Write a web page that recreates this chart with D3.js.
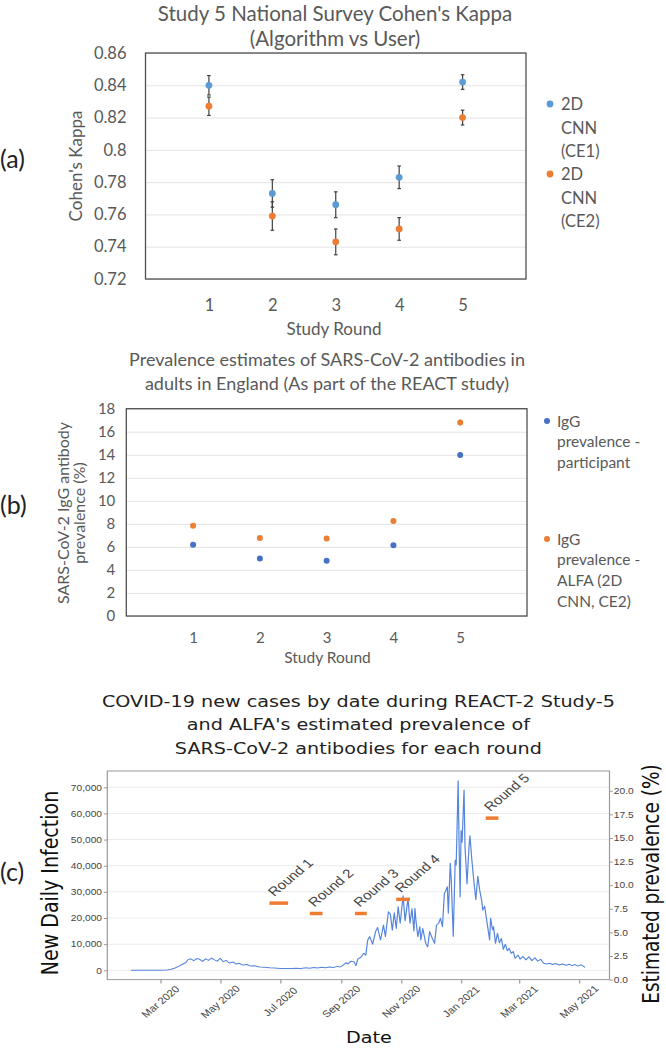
<!DOCTYPE html>
<html><head><meta charset="utf-8">
<script src="https://cdn.jsdelivr.net/npm/d3@7"></script>
<style>body{margin:0;background:#fff}svg{display:block}</style>
</head><body><svg id="chart"></svg>
<script>
// ---------- DATA ----------
const rounds = [1, 2, 3, 4, 5];
const kappaTicks = [0.72, 0.74, 0.76, 0.78, 0.80, 0.82, 0.84, 0.86];
const kappaCE1 = [0.840, 0.773, 0.766, 0.783, 0.842];
const kappaCE1Err = [0.006, 0.0085, 0.008, 0.007, 0.0045];
const kappaCE2 = [0.827, 0.759, 0.743, 0.751, 0.820];
const kappaCE2Err = [0.0057, 0.0088, 0.008, 0.007, 0.0046];

const prevTicks = [0, 2, 4, 6, 8, 10, 12, 14, 16, 18];
const prevParticipant = [6.19, 5.0, 4.8, 6.14, 13.98];
const prevParticipantErr = [0.1, 0.08, 0.08, 0.1, 0.2];
const prevALFA = [7.84, 6.77, 6.74, 8.25, 16.8];
const prevALFAErr = [0.12, 0.08, 0.08, 0.1, 0.25];

const caseSeries = [
 ["2020-01-31",0],["2020-02-15",0],["2020-03-01",20],["2020-03-08",100],["2020-03-12",400],
 ["2020-03-16",900],["2020-03-20",1600],["2020-03-24",2400],["2020-03-27",3000],["2020-03-29",4000],
 ["2020-04-01",4400],["2020-04-04",3700],["2020-04-07",4500],["2020-04-10",4200],["2020-04-13",3400],
 ["2020-04-16",4400],["2020-04-19",3800],["2020-04-22",4700],["2020-04-25",4000],["2020-04-28",3500],
 ["2020-05-01",4600],["2020-05-04",3300],["2020-05-07",3800],["2020-05-10",2800],["2020-05-14",3200],
 ["2020-05-17",2400],["2020-05-20",2700],["2020-05-24",2000],["2020-05-28",2200],["2020-06-01",1600],
 ["2020-06-05",1700],["2020-06-10",1300],["2020-06-15",1200],["2020-06-20",1000],["2020-06-25",900],
 ["2020-07-01",700],["2020-07-07",650],["2020-07-12",700],["2020-07-17",800],["2020-07-22",700],
 ["2020-07-27",1000],["2020-07-31",800],["2020-08-04",1100],["2020-08-08",900],["2020-08-12",1200],
 ["2020-08-16",1000],["2020-08-20",1300],["2020-08-24",1100],["2020-08-28",1500],["2020-08-31",1300],
 ["2020-09-03",2000],["2020-09-06",2900],["2020-09-08",2400],["2020-09-11",3500],["2020-09-14",3300],
 ["2020-09-16",1800],["2020-09-18",4400],["2020-09-21",5000],["2020-09-24",6500],["2020-09-26",5800],
 ["2020-09-28",11600],["2020-09-30",12900],["2020-10-03",10000],["2020-10-06",14800],["2020-10-08",16400],
 ["2020-10-11",11600],["2020-10-14",17300],["2020-10-16",12900],["2020-10-19",22400],["2020-10-21",21500],
 ["2020-10-23",15300],["2020-10-25",22000],["2020-10-27",16000],["2020-10-29",24300],["2020-10-31",18000],
 ["2020-11-03",28500],["2020-11-05",19000],["2020-11-08",27500],["2020-11-10",18000],["2020-11-12",23500],
 ["2020-11-14",15000],["2020-11-15",23700],["2020-11-16",19200],["2020-11-18",12900],["2020-11-20",16700],
 ["2020-11-21",11600],["2020-11-23",16000],["2020-11-26",10300],["2020-11-28",9000],["2020-11-30",14800],
 ["2020-12-02",12900],["2020-12-05",10300],["2020-12-07",17300],["2020-12-09",17900],["2020-12-11",19900],
 ["2020-12-13",16700],["2020-12-15",29500],["2020-12-16",30100],["2020-12-18",32000],["2020-12-19",21800],
 ["2020-12-21",40900],["2020-12-22",34500],["2020-12-24",12900],["2020-12-26",42200],["2020-12-27",40300],
 ["2020-12-29",72500],["2020-12-30",47000],["2020-12-31",28000],["2021-01-01",53500],["2021-01-02",49000],
 ["2021-01-04",69000],["2021-01-05",47000],["2021-01-06",40500],["2021-01-07",33000],["2021-01-09",47000],
 ["2021-01-10",51500],["2021-01-12",42000],["2021-01-13",38000],["2021-01-14",34000],["2021-01-16",27000],
 ["2021-01-18",36000],["2021-01-20",30500],["2021-01-22",26500],["2021-01-23",23000],["2021-01-25",24500],
 ["2021-01-26",21800],["2021-01-28",16700],["2021-01-30",11600],["2021-01-31",19900],["2021-02-02",15500],
 ["2021-02-03",16700],["2021-02-05",10300],["2021-02-07",14200],["2021-02-09",10500],["2021-02-11",12200],
 ["2021-02-13",8000],["2021-02-15",10000],["2021-02-17",7500],["2021-02-19",8400],["2021-02-21",6500],
 ["2021-02-23",7200],["2021-02-25",4600],["2021-02-28",5800],["2021-03-02",4300],["2021-03-05",5300],
 ["2021-03-08",4000],["2021-03-11",5200],["2021-03-14",3700],["2021-03-17",4800],["2021-03-20",3500],
 ["2021-03-23",4200],["2021-03-26",2700],["2021-03-29",2400],["2021-04-01",2700],["2021-04-04",2200],
 ["2021-04-07",2600],["2021-04-11",2000],["2021-04-14",2400],["2021-04-18",1900],["2021-04-21",2300],
 ["2021-04-24",1800],["2021-04-27",2200],["2021-04-30",1600],["2021-05-03",2100],["2021-05-05",1700],
 ["2021-05-07",1100]
];
const caseTicks = [0, 10000, 20000, 30000, 40000, 50000, 60000, 70000];
const prevRightTicks = [0, 2.5, 5, 7.5, 10, 12.5, 15, 17.5, 20];
const roundNames = ["Round 1", "Round 2", "Round 3", "Round 4", "Round 5"];
const roundStart = ["2020-06-20", "2020-07-31", "2020-09-15", "2020-10-27", "2021-01-26"];
const roundEnd = ["2020-07-09", "2020-08-13", "2020-09-27", "2020-11-10", "2021-02-08"];
const roundPrev = [8.1, 7.0, 7.0, 8.5, 17.1];

// ---------- SETUP ----------
const W = 666, H = 1048;
const svg = d3.select("#chart").attr("width", W).attr("height", H);
const LATO = "Lato, 'Open Sans', sans-serif";
const GREY = "#595959";

function panelLabel(txt, y) {
  svg.append("text").attr("x", 0).attr("y", y).attr("font-family", LATO)
    .attr("font-size", 25).attr("fill", "#222").text(txt);
}

// ---------- PANEL A ----------
{
  const L = 145.5, R = 526, T = 53, B = 279;
  const x = d3.scaleLinear().domain([0, 6]).range([L, R]);
  const y = d3.scaleLinear().domain([0.72, 0.86]).range([B, T]);
  const g = svg.append("g");
  const ay = g.append("g").attr("transform", `translate(${L},0)`)
    .call(d3.axisLeft(y).tickValues(kappaTicks).tickSize(-(R - L)).tickPadding(19)
      .tickFormat(d => String(+d.toFixed(2))));
  ay.select(".domain").remove();
  ay.selectAll("line").attr("stroke", "#e3e3e3");
  ay.selectAll("text").attr("font-family", LATO).attr("font-size", 16.5).attr("fill", GREY);
  const ax = g.append("g").attr("transform", `translate(0,${B})`)
    .call(d3.axisBottom(x).tickValues(rounds).tickSize(0).tickPadding(20).tickFormat(d3.format("d")));
  ax.select(".domain").remove();
  ax.selectAll("text").attr("font-family", LATO).attr("font-size", 16.5).attr("fill", GREY);
  g.append("rect").attr("x", L).attr("y", T).attr("width", R - L).attr("height", B - T)
    .attr("fill", "none").attr("stroke", "#505050").attr("stroke-width", 1.3);

  const series = [
    {v: kappaCE1, e: kappaCE1Err, c: "#5B9BD5"},
    {v: kappaCE2, e: kappaCE2Err, c: "#ED7D31"}
  ];
  series.forEach(s => {
    const eg = g.append("g").attr("stroke", "#404040").attr("stroke-width", 1.2);
    rounds.forEach((r, i) => {
      const cx = x(r), y1 = y(s.v[i] - s.e[i]), y2 = y(s.v[i] + s.e[i]);
      eg.append("line").attr("x1", cx).attr("x2", cx).attr("y1", y1).attr("y2", y2);
      eg.append("line").attr("x1", cx - 1.8).attr("x2", cx + 1.8).attr("y1", y1).attr("y2", y1);
      eg.append("line").attr("x1", cx - 1.8).attr("x2", cx + 1.8).attr("y1", y2).attr("y2", y2);
    });
  });
  series.forEach(s => {
    g.selectAll(null).data(rounds).join("circle")
      .attr("cx", d => x(d)).attr("cy", (d, i) => y(s.v[i])).attr("r", 3.4).attr("fill", s.c);
  });

  // titles
  const t = g.append("text").attr("text-anchor", "middle").attr("font-family", LATO)
    .attr("font-size", 20.5).attr("fill", GREY);
  t.append("tspan").attr("x", 335).attr("y", 20.5).text("Study 5 National Survey Cohen's Kappa");
  t.append("tspan").attr("x", 335).attr("y", 46).text("(Algorithm vs User)");
  g.append("text").attr("transform", "translate(82,166) rotate(-90)").attr("text-anchor", "middle")
    .attr("font-family", LATO).attr("font-size", 17).attr("fill", GREY).text("Cohen's Kappa");
  g.append("text").attr("x", 334).attr("y", 335).attr("text-anchor", "middle")
    .attr("font-family", LATO).attr("font-size", 17).attr("fill", GREY).text("Study Round");

  // legend
  const leg = [
    {c: "#5B9BD5", lines: ["2D", "CNN", "(CE1)"], y: 104},
    {c: "#ED7D31", lines: ["2D", "CNN", "(CE2)"], y: 174}
  ];
  leg.forEach(l => {
    g.append("circle").attr("cx", 550).attr("cy", l.y).attr("r", 3.4).attr("fill", l.c);
    const tt = g.append("text").attr("font-family", LATO).attr("font-size", 16.5).attr("fill", GREY);
    l.lines.forEach((s, i) => tt.append("tspan").attr("x", 561).attr("y", l.y + 6 + i * 23.5).text(s));
  });
  panelLabel("(a)", 168);
}

// ---------- PANEL B ----------
{
  const L = 126.3, R = 527, T = 408.7, B = 616;
  const x = d3.scaleLinear().domain([0, 6]).range([L, R]);
  const y = d3.scaleLinear().domain([0, 18]).range([B, T]);
  const g = svg.append("g");
  const ay = g.append("g").attr("transform", `translate(${L},0)`)
    .call(d3.axisLeft(y).tickValues(prevTicks).tickSize(-(R - L)).tickPadding(11));
  ay.select(".domain").remove();
  ay.selectAll("line").attr("stroke", "#e3e3e3");
  ay.selectAll("text").attr("font-family", LATO).attr("font-size", 15).attr("fill", GREY);
  const ax = g.append("g").attr("transform", `translate(0,${B})`)
    .call(d3.axisBottom(x).tickValues(rounds).tickSize(0).tickPadding(16).tickFormat(d3.format("d")));
  ax.select(".domain").remove();
  ax.selectAll("text").attr("font-family", LATO).attr("font-size", 15).attr("fill", GREY);
  g.append("rect").attr("x", L).attr("y", T).attr("width", R - L).attr("height", B - T)
    .attr("fill", "none").attr("stroke", "#505050").attr("stroke-width", 1.3);

  const series = [
    {v: prevParticipant, e: prevParticipantErr, c: "#4472C4"},
    {v: prevALFA, e: prevALFAErr, c: "#ED7D31"}
  ];
  series.forEach(s => {
    const eg = g.append("g").attr("stroke", "#404040").attr("stroke-width", 1);
    rounds.forEach((r, i) => {
      const cx = x(r);
      eg.append("line").attr("x1", cx).attr("x2", cx)
        .attr("y1", y(s.v[i] - s.e[i])).attr("y2", y(s.v[i] + s.e[i]));
    });
    g.selectAll(null).data(rounds).join("circle")
      .attr("cx", d => x(d)).attr("cy", (d, i) => y(s.v[i])).attr("r", 3).attr("fill", s.c);
  });

  const t = g.append("text").attr("text-anchor", "middle").attr("font-family", LATO)
    .attr("font-size", 18).attr("fill", GREY);
  t.append("tspan").attr("x", 327).attr("y", 366).text("Prevalence estimates of SARS-CoV-2 antibodies in");
  t.append("tspan").attr("x", 327).attr("y", 390).text("adults in England (As part of the REACT study)");
  const yl = g.append("text").attr("transform", "translate(0,513) rotate(-90)").attr("text-anchor", "middle")
    .attr("font-family", LATO).attr("font-size", 16).attr("fill", GREY);
  yl.append("tspan").attr("x", 0).attr("y", 69).text("SARS-CoV-2 IgG antibody");
  yl.append("tspan").attr("x", 0).attr("y", 85).text("prevalence (%)");
  g.append("text").attr("x", 327.5).attr("y", 663).attr("text-anchor", "middle")
    .attr("font-family", LATO).attr("font-size", 15.5).attr("fill", GREY).text("Study Round");

  const leg = [
    {c: "#4472C4", lines: ["IgG", "prevalence -", "participant"], y: 421},
    {c: "#ED7D31", lines: ["IgG", "prevalence -", "ALFA (2D", "CNN, CE2)"], y: 539}
  ];
  leg.forEach(l => {
    g.append("circle").attr("cx", 547).attr("cy", l.y).attr("r", 3).attr("fill", l.c);
    const tt = g.append("text").attr("font-family", LATO).attr("font-size", 15.5).attr("fill", GREY);
    l.lines.forEach((s, i) => tt.append("tspan").attr("x", 557).attr("y", l.y + 5.5 + i * 20.7).text(s));
  });
  panelLabel("(b)", 514);
}

// ---------- PANEL C ----------
{
  const SX = 1.2; // the panel is horizontally stretched in the figure
  const L = 107.3 / SX, R = 609.5 / SX, T = 771, B = 979.6;
  const g = svg.append("g").attr("transform", `scale(${SX},1)`);
  const parse = d3.utcParse("%Y-%m-%d");
  const x = d3.scaleUtc().domain([Date.UTC(2020, 0, 7), Date.UTC(2021, 5, 1)]).range([L, R]);
  const yL = d3.scaleLinear().domain([-3557, 76234]).range([B, T]);
  const yR = d3.scaleLinear().domain([0, 22.09]).range([B, T]);
  const TICKF = "'Liberation Sans', Arial, sans-serif";
  const DJ = "'DejaVu Sans', Verdana, sans-serif";

  // grid
  g.append("g").selectAll("line").data(caseTicks).join("line")
    .attr("x1", L).attr("x2", R).attr("y1", d => yL(d)).attr("y2", d => yL(d))
    .attr("stroke", "#ebebeb").attr("stroke-width", 1);
  // box
  g.append("rect").attr("x", L).attr("y", T).attr("width", R - L).attr("height", B - T)
    .attr("fill", "none").attr("stroke", "#9a9a9a").attr("stroke-width", 1);

  // left axis
  const al = g.append("g").attr("transform", `translate(${L},0)`)
    .call(d3.axisLeft(yL).tickValues(caseTicks).tickSize(3.5 / SX).tickPadding(1.5)
      .tickFormat(d3.format(",")));
  al.select(".domain").remove();
  al.selectAll("line").attr("stroke", "#9a9a9a");
  al.selectAll("text").attr("font-family", TICKF).attr("font-size", 8.5).attr("fill", "#444");
  // right axis
  const ar = g.append("g").attr("transform", `translate(${R},0)`)
    .call(d3.axisRight(yR).tickValues(prevRightTicks).tickSize(3.4 / SX).tickPadding(0.8)
      .tickFormat(d3.format(".1f")));
  ar.select(".domain").remove();
  ar.selectAll("line").attr("stroke", "#9a9a9a");
  ar.selectAll("text").attr("font-family", TICKF).attr("font-size", 8.5).attr("fill", "#444");
  // bottom axis
  const ab = g.append("g").attr("transform", `translate(0,${B})`)
    .call(d3.axisBottom(x).ticks(d3.utcMonth.every(2)).tickSize(4).tickFormat(""));
  ab.select(".domain").remove();
  ab.selectAll("line").attr("stroke", "#9a9a9a");
  const xt = x.ticks(d3.utcMonth.every(2));
  g.append("g").selectAll("text").data(xt).join("text")
    .attr("transform", d => `translate(${x(d)},${B + 22}) rotate(-45)`)
    .attr("text-anchor", "middle").attr("dy", "0.35em")
    .attr("font-family", TICKF).attr("font-size", 9.5).attr("fill", "#444")
    .text(d3.utcFormat("%b %Y"));

  // series line
  const line = d3.line().x(d => x(parse(d[0]))).y(d => yL(d[1]));
  g.append("path").datum(caseSeries).attr("d", line).attr("fill", "none")
    .attr("stroke", "#5585dd").attr("stroke-width", 1).attr("stroke-linejoin", "round");

  // round bars + labels
  roundNames.forEach((name, i) => {
    const x1 = x(parse(roundStart[i])), x2 = x(parse(roundEnd[i])), yy = yR(roundPrev[i]);
    g.append("line").attr("x1", x1).attr("x2", x2).attr("y1", yy).attr("y2", yy)
      .attr("stroke", "#F07C31").attr("stroke-width", 3.5);
    g.append("text").attr("transform", `translate(${x1 + 3.9},${yy - 6}) rotate(-45)`)
      .attr("font-family", TICKF).attr("font-size", 12.5).attr("fill", "#444").text(name);
  });

  // titles
  const t = g.append("text").attr("text-anchor", "middle").attr("font-family", DJ)
    .attr("font-size", 16).attr("fill", "#222");
  const cx = 358.4 / SX;
  t.append("tspan").attr("x", cx).attr("y", 707).text("COVID-19 new cases by date during REACT-2 Study-5");
  t.append("tspan").attr("x", cx).attr("y", 730.5).text("and ALFA's estimated prevalence of");
  t.append("tspan").attr("x", cx).attr("y", 754).text("SARS-CoV-2 antibodies for each round");
  g.append("text").attr("transform", `translate(${50 / SX},883) rotate(-90)`).attr("text-anchor", "middle")
    .attr("dy", "0.35em").attr("font-family", DJ).attr("font-size", 19).attr("fill", "#111")
    .text("New Daily Infection");
  g.append("text").attr("transform", `translate(${651.5 / SX},884) rotate(-90)`).attr("text-anchor", "middle")
    .attr("dy", "0.32em").attr("font-family", DJ).attr("font-size", 18.5).attr("fill", "#111")
    .text("Estimated prevalence (%)");
  g.append("text").attr("x", 369 / SX).attr("y", 1043).attr("text-anchor", "middle")
    .attr("font-family", DJ).attr("font-size", 16).attr("fill", "#111").text("Date");
  panelLabel("(c)", 881);
}
</script></body></html>
